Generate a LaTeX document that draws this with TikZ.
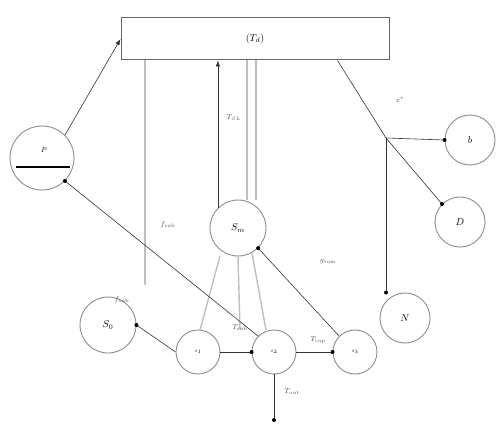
\documentclass[tikz,border=0pt]{standalone}
\usetikzlibrary{arrows.meta}
\begin{document}
\begin{tikzpicture}[x=1pt,y=-1pt,
  circ/.style={draw=black!45,circle,line width=0.9pt,inner sep=0pt},
  blk/.style={draw=black!80,line width=0.6pt},
  gry/.style={draw=black!25,line width=1.4pt},
  dot/.style={circle,fill=black,inner sep=0pt,minimum size=4pt},
  lab/.style={font=\scriptsize,text=black!70}]
\useasboundingbox (0,0) rectangle (498,425);
\node[draw=black!60,line width=1pt,minimum width=268pt,minimum height=42pt] (box) at (255,39) {$(T_d)$};
\node[circ,minimum size=64pt] (P) at (42,158) {};
\node[font=\scriptsize] (Pl) at (44,150) {$P$};
\draw[line width=1.6pt] (16,167) -- (70,167);
\node[circ,minimum size=56pt] (Sm) at (238,228) {$S_m$};
\node[circ,minimum size=50pt] (B1) at (470,140) {$b$};
\node[circ,minimum size=50pt] (B2) at (460,222) {$D$};
\node[circ,minimum size=50pt] (N) at (405,318) {$N$};
\node[circ,minimum size=56pt] (S0) at (108,325) {$S_0$};
\node[circ,minimum size=44pt] (s1) at (198,352) {\tiny$s_{1}$};
\node[circ,minimum size=44pt] (s2) at (274,352) {\tiny$s_{2}$};
\node[circ,minimum size=44pt] (s3) at (355,352) {\tiny$s_{3}$};
\coordinate (J) at (386,138);
\coordinate (E) at (274,420);
% faint lines
\draw[gry] (145,60) -- (145,285);
\draw[gry] (247,60) -- (247,200);
\draw[gry] (256,60) -- (256,200);
\draw[gry] (220,256) -- (200,330);
\draw[gry] (238,256) -- (240,330);
\draw[gry] (252,253) -- (266,330);
% black connectors
\draw[blk,-{Latex[length=6pt]}] (P.north east) -- (box.west);
\draw[blk] (P.south east) node[dot]{} -- (s2.north west);
\draw[blk,-{Latex[length=6pt]}] (Sm.north west) -- (Sm.north west |- box.south);
\draw[blk] (box.south east) ++(-52,0) -- (J);
\draw[blk] (J) -- (B2.north west) node[dot]{};
\draw[blk] (J) -- (B1.west) node[dot]{};
\draw[blk] (J) -- (J |- N.north) node[dot]{};
\draw[blk] (Sm.south east) node[dot]{} -- (s3.north west);
\draw[blk] (S0.east) node[dot]{} -- (s1.west);
\draw[blk] (s1.east) -- (s2.west) node[dot]{};
\draw[blk] (s2.east) -- (s3.west) node[dot]{};
\draw[blk] (s2.south) -- (E) node[dot]{};
% labels
\node[lab] (l1) at (234,118) {$T_{SL}$};
\node[lab] (l2) at (400,100) {$x^{*}$};
\node[lab] (l3) at (168,225) {$f_{\rm sub}$};
\node[lab] (l4) at (122,300) {$f_{\rm sub}$};
\node[lab] (l5) at (328,262) {$g_{\rm sum}$};
\node[lab] (l6) at (240,328) {$T_{\rm sub}$};
\node[lab] (l7) at (318,340) {$T_{\rm cap}$};
\node[lab] (l8) at (292,392) {$T_{\rm out}$};
\end{tikzpicture}
\end{document}
